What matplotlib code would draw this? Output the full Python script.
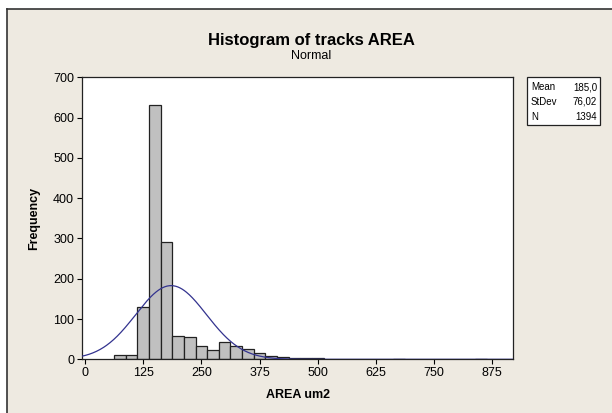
import numpy as np
import matplotlib
matplotlib.use('Agg')
import matplotlib.pyplot as plt
from matplotlib.patches import Rectangle
from matplotlib.lines import Line2D

# --- DATI ---
bin_centers = [75, 100, 125, 150, 175, 200, 225, 250, 275, 300, 325, 350,
               375, 400, 425, 450, 475, 500, 675, 850]
counts = [10, 10, 131, 632, 290, 58, 55, 33, 23, 44, 33, 26,
          15, 8, 6, 4, 3, 3, 1, 1]
bin_width = 25
mean, stdev, n_tot = 185.0, 76.02, 1394
x_ticks = [0, 125, 250, 375, 500, 625, 750, 875]
y_ticks = [0, 100, 200, 300, 400, 500, 600, 700]
stats_labels = ['Mean', 'StDev', 'N']
stats_values = ['185,0', '76,02', '1394']
# -----------------

plt.rcParams['font.family'] = ['Liberation Sans Narrow', 'Liberation Sans', 'DejaVu Sans']

bg = '#eeeae1'
fig = plt.figure(figsize=(6.12, 4.13), dpi=100, facecolor='white')
W, H = 612, 413

# pannello beige con bordo in stile finestra
fig.add_artist(Rectangle((7 / W, 0), 1 - 7 / W, 1 - 9 / H, transform=fig.transFigure,
                         facecolor=bg, edgecolor='none', zorder=-10))
fig.add_artist(Line2D([7 / W, 7 / W], [0, 1 - 9 / H], transform=fig.transFigure,
                      color='#333333', lw=1.2, zorder=-5))
fig.add_artist(Line2D([7 / W, 1], [1 - 9 / H, 1 - 9 / H], transform=fig.transFigure,
                      color='#333333', lw=1.2, zorder=-5))

ax = fig.add_axes([81.7 / W, 1 - 359.3 / H, (513.3 - 81.7) / W, (359.3 - 77.3) / H])
ax.set_facecolor('white')

ax.bar(bin_centers, counts, width=bin_width, color='#c0c0c0',
       edgecolor='#222222', linewidth=0.9, zorder=2)

xs = np.linspace(-8, 920, 600)
ys = n_tot * bin_width / (stdev * np.sqrt(2 * np.pi)) * np.exp(-0.5 * ((xs - mean) / stdev) ** 2)
ax.plot(xs, ys, color='#33338f', lw=0.9, zorder=3)

ax.set_xlim(-7, 920)
ax.set_ylim(0, 700)
ax.set_xticks(x_ticks)
ax.set_yticks(y_ticks)
ax.tick_params(direction='out', length=3.5, width=0.8, labelsize=9, pad=2)
for s in ax.spines.values():
    s.set_linewidth(0.9)
    s.set_color('#222222')

ax.set_xlabel('AREA um2', fontsize=9, fontweight='bold', labelpad=7)
ax.set_ylabel('Frequency', fontsize=9, fontweight='bold', labelpad=9)

fig.text(311 / W, 1 - 40 / H, 'Histogram of tracks AREA', ha='center', va='center',
         fontsize=12, fontweight='bold')
fig.text(311 / W, 1 - 56 / H, 'Normal', ha='center', va='center', fontsize=9)

# riquadro statistiche
fig.add_artist(Rectangle((526.7 / W, 1 - 125 / H), (600 - 526.7) / W, (125 - 77.3) / H,
                         transform=fig.transFigure, facecolor='white',
                         edgecolor='#222222', lw=0.9))
for i, (lab, val) in enumerate(zip(stats_labels, stats_values)):
    yy = 1 - (87.3 + i * 14.7) / H
    fig.text(531 / W, yy, lab, ha='left', va='center', fontsize=7)
    fig.text(597 / W, yy, val, ha='right', va='center', fontsize=7)

fig.savefig('out.png', dpi=100, facecolor='white')
